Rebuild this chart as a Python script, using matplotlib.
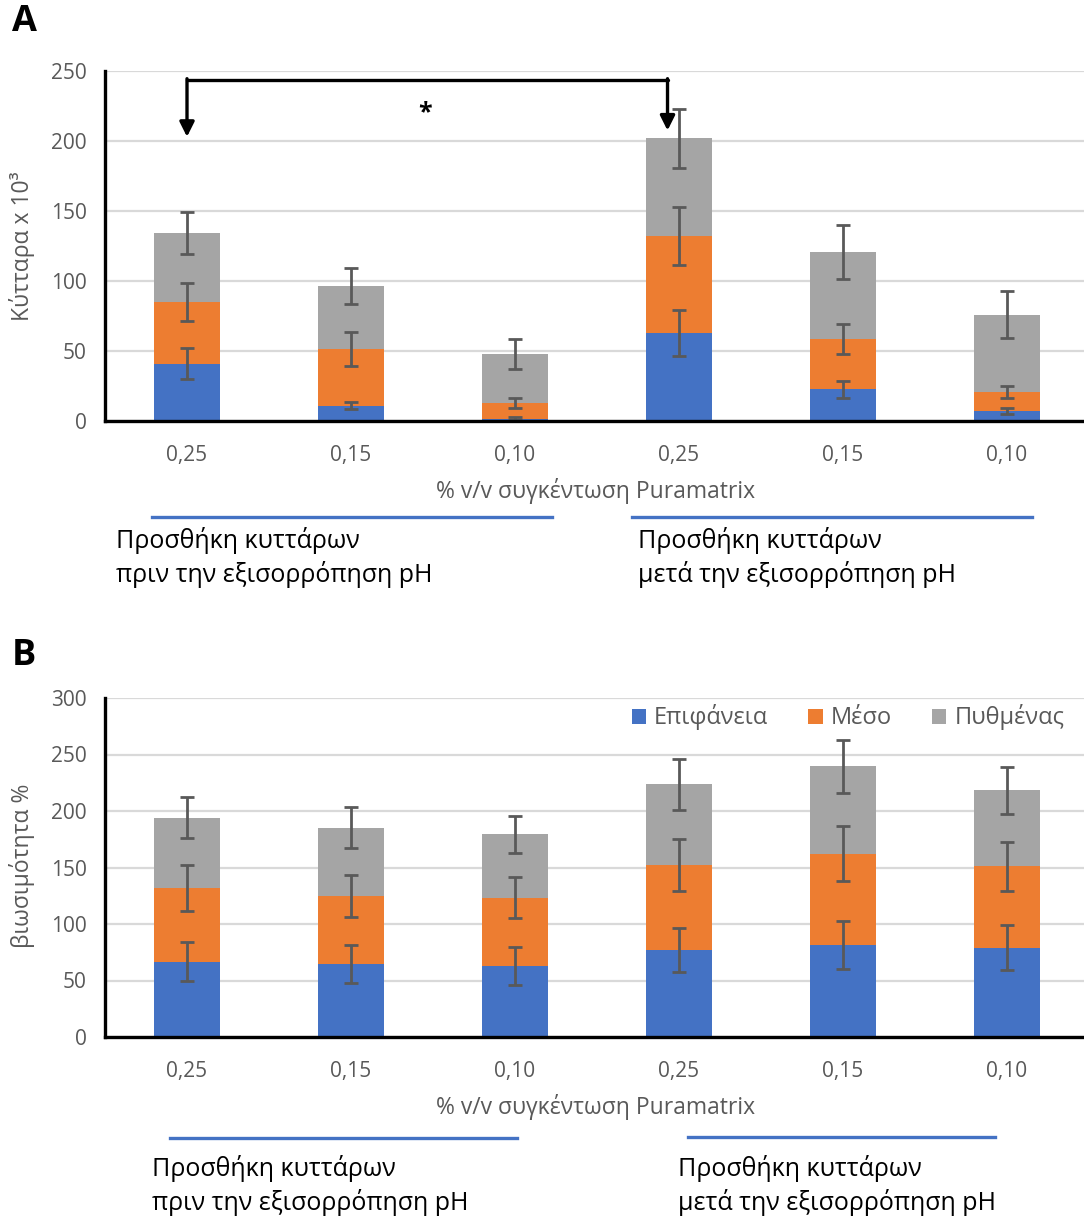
import matplotlib
matplotlib.use("Agg")
import matplotlib.pyplot as plt
import numpy as np
from matplotlib.lines import Line2D

plt.rcParams['font.family'] = ['Open Sans', 'DejaVu Sans']

# ---------------- data ----------------
categories = ["0,25", "0,15", "0,10", "0,25", "0,15", "0,10"]
series_names = ["Επιφάνεια", "Μέσο", "Πυθμένας"]

# Panel A: cells x 10^3 (segment values)
a_surface = [41, 11, 1.5, 63, 22.7, 7.2]
a_middle = [44, 40.5, 11.2, 69, 36, 13.6]
a_bottom = [49, 45, 35, 70, 62, 55]
a_err_surface = [11, 2.7, 1, 16.3, 6, 2]
a_err_middle = [13.5, 12, 3.5, 20.7, 10.5, 4.3]
a_err_bottom = [15, 13, 10.7, 21, 19, 16.7]

# Panel B: viability % (segment values)
b_surface = [66.7, 64.3, 63.1, 77.1, 81.5, 79.2]
b_middle = [64.9, 60.5, 60.2, 75.0, 80.7, 71.7]
b_bottom = [62.6, 60.5, 56.1, 71.4, 77.3, 67.3]
b_err_surface = [17.3, 16.7, 16.7, 19.4, 21.2, 20.0]
b_err_middle = [20.3, 18.7, 18.4, 22.8, 24.2, 21.6]
b_err_bottom = [18.4, 18.4, 16.6, 22.4, 23.4, 20.8]

xlabel_text = "% v/v συγκέντωση Puramatrix"
ylabel_a = "Κύτταρα x 10³"
ylabel_b = "βιωσιμότητα %"
group_before = ["Προσθήκη κυττάρων", "πριν την εξισορρόπηση pH"]
group_after = ["Προσθήκη κυττάρων", "μετά την εξισορρόπηση pH"]

colors = ["#4472C4", "#ED7D31", "#A5A5A5"]
TXT = "#595959"

W, H = 1084, 1220
fig = plt.figure(figsize=(W / 100, H / 100), dpi=100)


def fx(px):
    return px / W


def fy(py):
    return 1 - py / H


def draw_panel(ax, segs, errs, ymax, ystep):
    x = np.arange(len(categories))
    bottom = np.zeros(len(categories))
    handles = []
    for vals, err, c, name in zip(segs, errs, colors, series_names):
        vals = np.array(vals, dtype=float)
        h = ax.bar(x, vals, 0.4, bottom=bottom, color=c, label=name, zorder=2)
        handles.append(h)
        bottom = bottom + vals
        ax.errorbar(x, bottom, yerr=err, fmt='none', ecolor=TXT,
                    elinewidth=2, capsize=5, capthick=2, zorder=3)
    ax.set_xlim(-0.5, 5.5)
    ax.set_ylim(0, ymax)
    ax.set_yticks(np.arange(0, ymax + 1, ystep))
    ax.set_xticks(x)
    ax.set_xticklabels(categories)
    ax.tick_params(axis='both', length=0, labelsize=15, colors=TXT)
    ax.tick_params(axis='x', pad=17)
    ax.tick_params(axis='y', pad=13)
    ax.yaxis.grid(True, color="#D9D9D9", linewidth=1.6, zorder=0)
    ax.set_axisbelow(True)
    for s in ["top", "right"]:
        ax.spines[s].set_visible(False)
    for s in ["left", "bottom"]:
        ax.spines[s].set_linewidth(2.4)
        ax.spines[s].set_color("black")
    ax.spines["bottom"].set_zorder(4)
    return handles


# Panel A
axA = fig.add_axes([fx(105), fy(421), fx(984), (421 - 71) / H])
draw_panel(axA, [a_surface, a_middle, a_bottom],
           [a_err_surface, a_err_middle, a_err_bottom], 250, 50)

# significance bracket
axA.plot([0, 2.93], [243.5, 243.5], color="black", lw=2.4,
         solid_capstyle='round', clip_on=False, zorder=5)
axA.annotate("", xy=(0, 203), xytext=(0, 244.5),
             arrowprops=dict(arrowstyle='-|>', lw=2.4, color='black',
                             mutation_scale=22, shrinkA=0, shrinkB=0), zorder=5)
axA.annotate("", xy=(2.93, 207.5), xytext=(2.93, 244.5),
             arrowprops=dict(arrowstyle='-|>', lw=2.4, color='black',
                             mutation_scale=22, shrinkA=0, shrinkB=0), zorder=5)
axA.text(1.45, 220, "*", ha='center', va='center', fontsize=18,
         fontweight='bold', color='black')

# Panel B
axB = fig.add_axes([fx(105), fy(1037), fx(984), (1037 - 698) / H])
hB = draw_panel(axB, [b_surface, b_middle, b_bottom],
                [b_err_surface, b_err_middle, b_err_bottom], 300, 50)
leg = axB.legend(handles=hB, loc='upper right', ncol=3, frameon=False,
                 bbox_to_anchor=(fx(1074), fy(695)),
                 bbox_transform=fig.transFigure, fontsize=17,
                 handlelength=0.6, handleheight=0.6, handletextpad=0.35,
                 columnspacing=1.7, borderaxespad=0)
for t in leg.get_texts():
    t.set_color(TXT)

# panel letters
fig.text(fx(24), fy(22), "A", fontsize=26, fontweight='bold', ha='center', va='center')
fig.text(fx(24), fy(656), "B", fontsize=26, fontweight='bold', ha='center', va='center')

# y labels
fig.text(fx(22), fy(246), ylabel_a, rotation=90, fontsize=16.5, color=TXT,
         ha='center', va='center')
fig.text(fx(22), fy(866), ylabel_b, rotation=90, fontsize=16.5, color=TXT,
         ha='center', va='center')

# x labels
fig.text(fx(596), fy(491), xlabel_text, fontsize=16.5, color=TXT, ha='center', va='center')
fig.text(fx(596), fy(1107), xlabel_text, fontsize=16.5, color=TXT, ha='center', va='center')

# group lines and labels
def gline(x0, x1, y):
    fig.add_artist(Line2D([fx(x0), fx(x1)], [fy(y), fy(y)], color="#4472C4", lw=2.4))


gline(152, 552, 517)
gline(632, 1032, 517)
gline(170, 517, 1138)
gline(688, 995, 1137)


def glabel(x, y1, y2, lines):
    fig.text(fx(x), fy(y1), lines[0], fontsize=18, color='black', ha='left', va='center')
    fig.text(fx(x), fy(y2), lines[1], fontsize=18, color='black', ha='left', va='center')


glabel(116, 540, 575, group_before)
glabel(638, 540, 575, group_after)
glabel(152, 1168, 1203, group_before)
glabel(678, 1168, 1203, group_after)

fig.savefig("out.png", dpi=100)
